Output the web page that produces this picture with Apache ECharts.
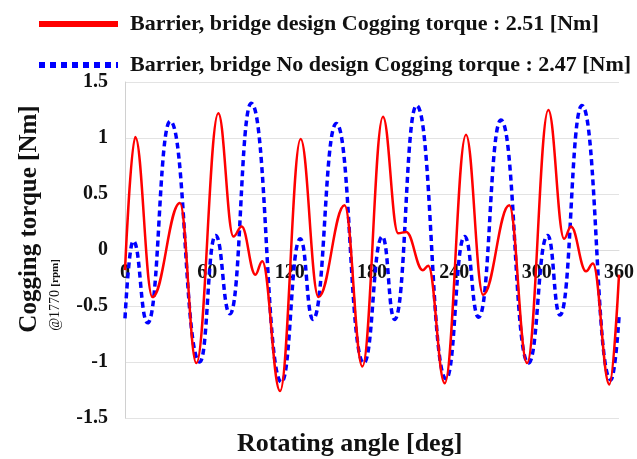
<!DOCTYPE html>
<html>
<head>
<meta charset="utf-8">
<title>Cogging torque</title>
<script src="https://cdn.jsdelivr.net/npm/echarts@6/dist/echarts.min.js"></script>
<style>
  html, body { margin: 0; padding: 0; background: #fff; }
  #chart { width: 637px; height: 459px; }
</style>
</head>
<body>
<div id="chart"></div>
<script>
// Series names as shown in the legend
const seriesNames = [
  'Barrier, bridge design Cogging torque : 2.51 [Nm]',
  'Barrier, bridge No design Cogging torque : 2.47 [Nm]'
];

// Barrier + bridge design: turning points of the torque waveform
const designAngle = [0, 7.5, 20, 40, 52, 68, 79, 85, 95, 100, 113,
  128, 141, 160, 173, 188, 199, 205, 217, 221, 233,
  248.5, 261, 280, 293, 308.5, 320, 325, 336, 341, 353, 360];
const designTorque = [-0.18, 1.01, -0.42, 0.42, -1.01, 1.22, 0.12, 0.21, -0.22, -0.10, -1.26,
  0.99, -0.42, 0.40, -1.04, 1.19, 0.15, 0.16, -0.18, -0.14, -1.19,
  1.03, -0.40, 0.40, -1.01, 1.25, 0.10, 0.21, -0.19, -0.12, -1.20, -0.22];

// No design: turning points of the torque waveform
const noDesignAngle = [0, 6, 16.5, 33, 54.5, 66, 76.5, 92, 114,
  127.7, 137, 154, 174, 187.5, 196.5, 212.5, 234,
  247.5, 257.7, 274, 294, 308, 317, 333, 354, 360];
const noDesignTorque = [-0.61, 0.08, -0.65, 1.15, -1.00, 0.13, -0.57, 1.31, -1.18,
  0.10, -0.62, 1.13, -1.01, 0.12, -0.62, 1.29, -1.15,
  0.12, -0.60, 1.16, -1.01, 0.13, -0.58, 1.29, -1.16, -0.60];

// Axis ticks
const angleTicks = [0, 60, 120, 180, 240, 300, 360];
const torqueTicks = [-1.5, -1, -0.5, 0, 0.5, 1, 1.5];

const serif = '"Liberation Serif", "Times New Roman", serif';
const pair = (xs, ys) => xs.map((x, i) => [x, ys[i]]);

// Plot box
const gridTop = 82, gridBottom = 41, chartH = 459;
const plotH = chartH - gridTop - gridBottom;
const yMin = torqueTicks[0], yMax = torqueTicks[torqueTicks.length - 1];
// Lift the angle axis from the bottom edge up to torque = 0
const zeroOffset = -plotH * (0 - yMin) / (yMax - yMin);

const chart = echarts.init(document.getElementById('chart'), null, { renderer: 'canvas' });

chart.setOption({
  animation: false,
  backgroundColor: '#ffffff',
  grid: { left: 125, right: 17, top: gridTop, bottom: gridBottom, containLabel: false },
  legend: {
    orient: 'vertical',
    left: 31,
    top: 8,
    itemWidth: 79,
    itemHeight: 20,
    itemGap: 19,
    textStyle: {
      fontFamily: serif, fontWeight: 'bold', fontSize: 22, color: '#111',
      padding: [0, 0, 0, 7]
    },
    data: [
      { name: seriesNames[0], itemStyle: { opacity: 0 },
        lineStyle: { color: '#ff0000', width: 6, type: 'solid' } },
      { name: seriesNames[1], itemStyle: { opacity: 0 },
        lineStyle: { color: '#0000ff', width: 6, type: [6, 5], cap: 'butt' } }
    ]
  },
  xAxis: {
    type: 'value',
    min: angleTicks[0],
    max: angleTicks[angleTicks.length - 1],
    interval: angleTicks[1] - angleTicks[0],
    offset: zeroOffset,
    axisLine: { show: true, onZero: false, lineStyle: { color: '#dcdcdc', width: 1 } },
    axisTick: { show: false },
    splitLine: { show: false },
    axisLabel: {
      margin: 13,
      fontFamily: serif, fontWeight: 'bold', fontSize: 20, color: '#111'
    }
  },
  yAxis: {
    type: 'value',
    min: yMin,
    max: yMax,
    interval: torqueTicks[1] - torqueTicks[0],
    axisLine: { show: true, lineStyle: { color: '#d0d0d0', width: 1 } },
    axisTick: { show: false },
    splitLine: { show: true, lineStyle: { color: '#e3e3e3', width: 1 } },
    axisLabel: {
      margin: 17,
      fontFamily: serif, fontWeight: 'bold', fontSize: 20, color: '#111',
      formatter: v => String(v)
    }
  },
  graphic: [
    {
      type: 'text', x: 30, y: 219, rotation: Math.PI / 2,
      style: {
        text: 'Cogging torque [Nm]', fill: '#111',
        font: 'bold 25px ' + serif, textAlign: 'center', textVerticalAlign: 'middle'
      }
    },
    {
      type: 'text', x: 55, y: 295, rotation: Math.PI / 2,
      style: {
        text: '{a|@1770} {b|[rpm]}', fill: '#111',
        textAlign: 'center', textVerticalAlign: 'middle',
        rich: {
          a: { fontFamily: serif, fontSize: 14, fill: '#111' },
          b: { fontFamily: serif, fontSize: 11, fontWeight: 'bold', fill: '#111' }
        }
      }
    },
    {
      type: 'text', x: 237, y: 444,
      style: {
        text: 'Rotating angle [deg]', fill: '#111',
        font: 'bold 26px ' + serif, textAlign: 'left', textVerticalAlign: 'middle'
      }
    }
  ],
  series: [
    {
      name: seriesNames[0],
      type: 'line',
      data: pair(designAngle, designTorque),
      showSymbol: false,
      symbol: 'none',
      smooth: 0.4,
      smoothMonotone: 'x',
      lineStyle: { color: '#ff0000', width: 2.5 },
      itemStyle: { color: '#ff0000' },
      z: 3
    },
    {
      name: seriesNames[1],
      type: 'line',
      data: pair(noDesignAngle, noDesignTorque),
      showSymbol: false,
      symbol: 'none',
      smooth: 0.5,
      smoothMonotone: 'x',
      lineStyle: { color: '#0000ff', width: 3.5, type: [6, 4], cap: 'butt' },
      itemStyle: { color: '#0000ff' },
      z: 2
    }
  ]
});
</script>
</body>
</html>
